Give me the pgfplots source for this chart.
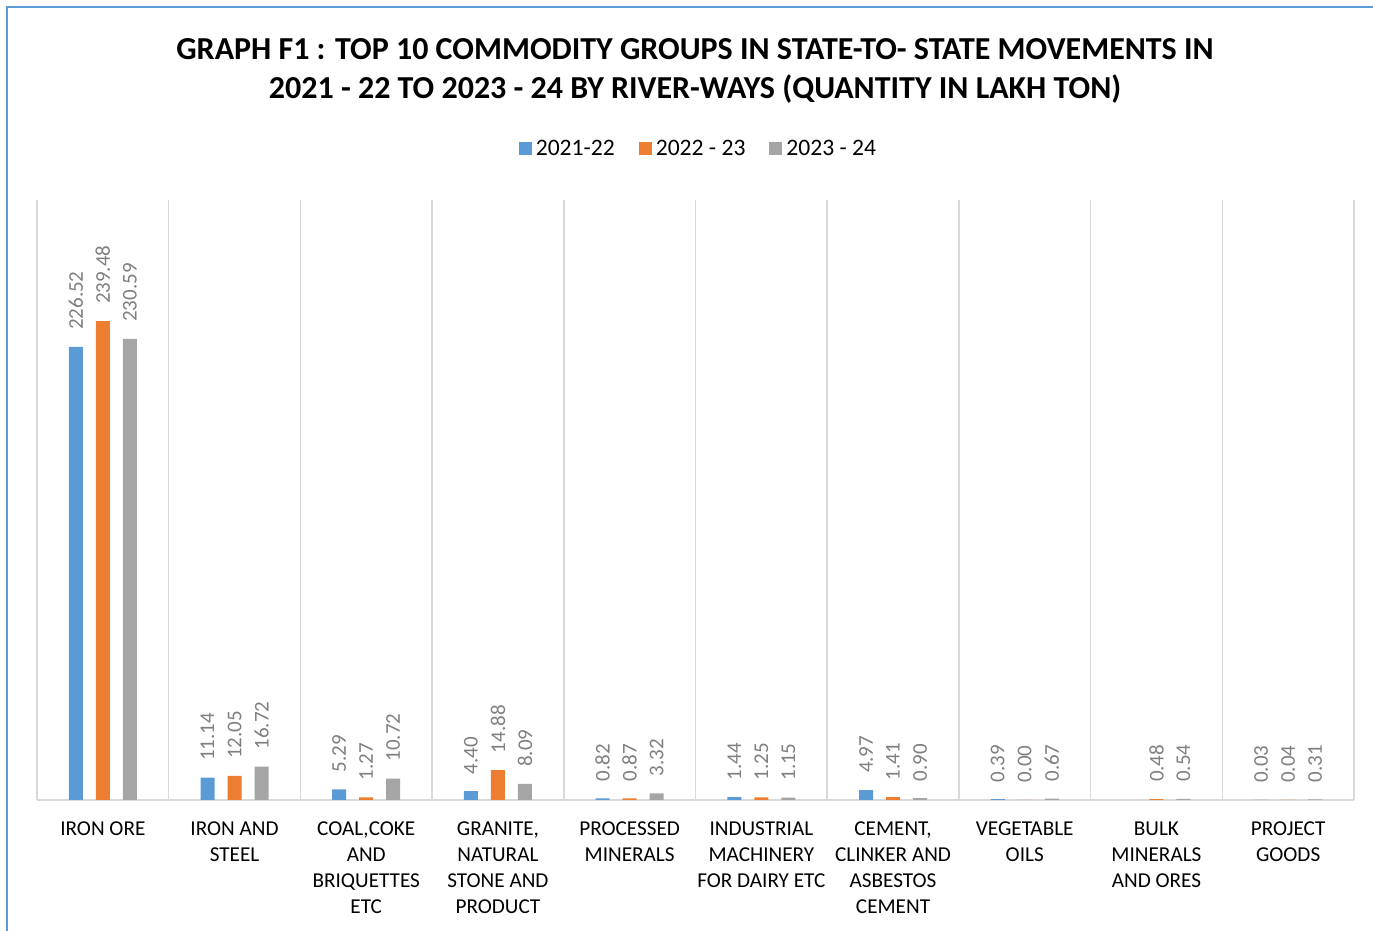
\documentclass[border=0pt]{standalone}
\usepackage{pgfplots}
\pgfplotsset{compat=1.18}
\usepackage{fontspec}
\setmainfont{Carlito}
\definecolor{cblue}{HTML}{5B9BD5}
\definecolor{corange}{HTML}{ED7D31}
\definecolor{cgrey}{HTML}{A5A5A5}
\definecolor{gridc}{HTML}{D9D9D9}
\definecolor{framec}{HTML}{5B9BD5}
\definecolor{lblc}{HTML}{7F7F7F}
\begin{document}
\begin{tikzpicture}
  % page: 1px = 0.5pt, plot area origin at (37px, 800px)
  \useasboundingbox (-18.5pt,-65.5pt) rectangle (668pt,400pt);
  \draw[framec, line width=0.8pt] (-15pt,-65.5pt) -- (-15pt,396.5pt) -- (668pt,396.5pt);

  \node[font=\bfseries\fontsize{16}{19.5}\selectfont, align=center] at (329pt,364.5pt)
    {GRAPH F1 : TOP 10 COMMODITY GROUPS IN STATE-TO- STATE MOVEMENTS IN\\
     2021 - 22 TO 2023 - 24 BY RIVER-WAYS (QUANTITY IN LAKH TON)};

  \begin{axis}[
    at={(0pt,0pt)}, anchor=south west,
    scale only axis,
    width=658.5pt, height=300pt,
    ybar=6.5pt, bar width=7pt,
    xmin=0.5, xmax=10.5,
    ymin=0, ymax=300,
    axis y line=none,
    axis x line=bottom,
    x axis line style={gridc, line width=0.8pt, -},
    xtick={1,...,10},
    major tick length=0pt,
    minor xtick={0.5,1.5,...,10.5},
    minor tick length=0pt,
    xminorgrids=true,
    minor grid style={gridc, line width=0.8pt},
    xticklabels={
      IRON ORE,
      {IRON AND\\STEEL},
      {COAL,COKE\\AND\\BRIQUETTES\\ETC},
      {GRANITE,\\NATURAL\\STONE AND\\PRODUCT},
      {PROCESSED\\MINERALS},
      {INDUSTRIAL\\MACHINERY\\FOR DAIRY ETC},
      {CEMENT,\\CLINKER AND\\ASBESTOS\\CEMENT},
      {VEGETABLE\\OILS},
      {BULK\\MINERALS\\AND ORES},
      {PROJECT\\GOODS}},
    xticklabel style={align=center, font=\fontsize{10.6}{13}\selectfont, yshift=-7.5pt},
    nodes near coords,
    nodes near coords style={rotate=90, anchor=west, font=\fontsize{10.5}{11}\selectfont,
      text=lblc, /pgf/number format/fixed, /pgf/number format/precision=2,
      /pgf/number format/fixed zerofill, /pgf/number format/assume math mode=true,
      xshift=5pt},
    legend style={at={(0.503,1.085)}, anchor=center, draw=none, legend columns=-1,
      font=\fontsize{11.8}{13}\selectfont,
      /tikz/every even column/.append style={column sep=10pt}},
    legend image code/.code={\fill[#1] (0pt,-3.25pt) rectangle (6.5pt,3.25pt);},
  ]
  \addplot[fill=cblue, draw=none] coordinates {
    (1,226.52) (2,11.14) (3,5.29) (4,4.40) (5,0.82) (6,1.44) (7,4.97) (8,0.39) (10,0.03)};
  \addlegendentry{2021-22}
  \addplot[fill=corange, draw=none] coordinates {
    (1,239.48) (2,12.05) (3,1.27) (4,14.88) (5,0.87) (6,1.25) (7,1.41) (8,0.00) (9,0.48) (10,0.04)};
  \addlegendentry{2022 - 23}
  \addplot[fill=cgrey, draw=none] coordinates {
    (1,230.59) (2,16.72) (3,10.72) (4,8.09) (5,3.32) (6,1.15) (7,0.90) (8,0.67) (9,0.54) (10,0.31)};
  \addlegendentry{2023 - 24}
  \end{axis}
\end{tikzpicture}
\end{document}
